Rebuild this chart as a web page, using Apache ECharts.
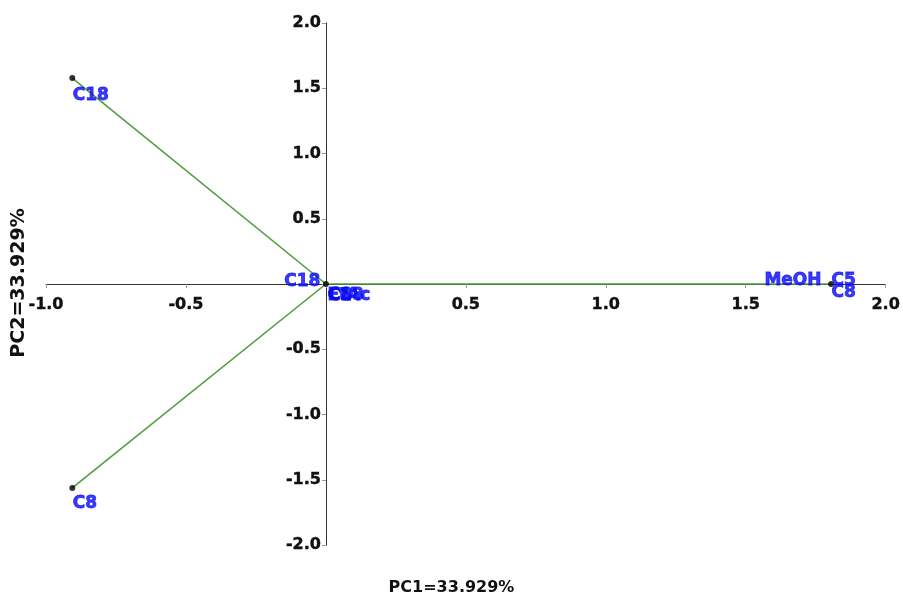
<!DOCTYPE html>
<html>
<head>
<meta charset="utf-8">
<script src="https://cdn.jsdelivr.net/npm/echarts@6/dist/echarts.min.js"></script>
<style>html,body{margin:0;padding:0;background:#fff}#c{width:903px;height:597px}</style>
</head>
<body>
<div id="c"></div>
<script>
// Loading vectors (end points)
const vectorNames = ['C18', 'C8', 'MeOH'];
const vectorPC1 = [-0.906, -0.906, 1.805];
const vectorPC2 = [1.578, -1.563, 0];

// Variable labels and the point they belong to
const labelTexts = ['C18', 'C8', 'C18', 'C18', 'C8', 'EtAc', 'MeOH', 'C5', 'C8'];
const labelPC1 = [-0.906, -0.906, 0, 0, 0, 0, 1.805, 1.805, 1.805];
const labelPC2 = [1.578, -1.563, 0, 0, 0, 0, 0, 0, 0];

const xTicks = [-1.0, -0.5, 0, 0.5, 1.0, 1.5, 2.0];
const yTicks = [-2.0, -1.5, -1.0, -0.5, 0, 0.5, 1.0, 1.5, 2.0];
const xTitle = 'PC1=33.929%';
const yTitle = 'PC2=33.929%';

// label placement styles (pixel offsets from the anchor point)
const labelPlacement = [
  {pos: [1, 18], align: 'left'},
  {pos: [1, 16], align: 'left'},
  {pos: [-5, -2], align: 'right'},
  {pos: [2, 12], align: 'left'},
  {pos: [3, 12], align: 'left'},
  {pos: [2, 12], align: 'left'},
  {pos: [-9, -3], align: 'right'},
  {pos: [1, -3], align: 'left'},
  {pos: [1, 9], align: 'left'}
];

const chart = echarts.init(document.getElementById('c'));
const FONT = 'DejaVu Sans';

const series = [];
vectorNames.forEach((n, i) => {
  series.push({
    type: 'line', name: n, silent: true,
    data: [[0, 0], [vectorPC1[i], vectorPC2[i]]],
    symbol: 'none',
    lineStyle: {color: '#4e9e3e', width: 1.6},
    z: 2
  });
});
series.push({
  type: 'scatter', name: 'points',
  data: vectorPC1.map((x, i) => [x, vectorPC2[i]]).concat([[0, 0]]),
  symbol: 'circle', symbolSize: 6,
  itemStyle: {color: '#000'},
  z: 3
});
series.push({
  type: 'scatter', name: 'labels',
  symbolSize: 1,
  itemStyle: {color: 'rgba(0,0,0,0)'},
  data: labelTexts.map((t, i) => ({
    value: [labelPC1[i], labelPC2[i]],
    label: {
      show: true,
      formatter: t,
      position: labelPlacement[i].pos,
      align: labelPlacement[i].align,
      verticalAlign: 'middle',
      color: '#0a0af5',
      textBorderColor: '#0a0af5', textBorderWidth: 0.8,
      fontFamily: FONT, fontWeight: 'bold', fontSize: 17
    }
  })),
  labelLayout: {hideOverlap: false},
  z: 4
});

const labelFmt = v => (Math.abs(v) < 1e-9 ? '' : v.toFixed(1));

function axisCommon(min, max, margin) {
  return {
    type: 'value', min: min, max: max, interval: 0.5,
    splitLine: {show: false},
    axisLine: {onZero: false, lineStyle: {color: '#333', width: 1}},
    axisTick: {show: true, length: 4, lineStyle: {color: '#999'}},
    axisLabel: {margin: margin, color: '#111', fontFamily: FONT, fontWeight: 'bold', fontSize: 16,
      textBorderColor: '#111', textBorderWidth: 0.4, formatter: labelFmt}
  };
}

const xAxisOpt = axisCommon(xTicks[0], xTicks[xTicks.length - 1], 13);
xAxisOpt.position = 'bottom';
const yAxisOpt = axisCommon(yTicks[0], yTicks[yTicks.length - 1], 5);
yAxisOpt.position = 'left';

const GRID = {left: 46, right: 16, top: 23, bottom: 52};

chart.setOption({
  animation: false,
  grid: Object.assign({containLabel: false}, GRID),
  xAxis: xAxisOpt,
  yAxis: yAxisOpt,
  graphic: [
    {type: 'text', left: 'center', top: 580, style: {text: xTitle, fill: '#111', font: 'bold 16px "DejaVu Sans"'}, z: 10},
    {type: 'text', x: 19, y: 283, rotation: Math.PI / 2, style: {text: yTitle, fill: '#111', font: 'bold 19px "DejaVu Sans"', align: 'center', verticalAlign: 'middle'}, z: 10}
  ],
  series: series
});

// Move both axes (line, ticks, labels) so they cross at the origin
const origin = chart.convertToPixel({gridIndex: 0}, [0, 0]);
const bottomEdge = 597 - GRID.bottom;
const leftEdge = GRID.left;
chart.setOption({
  xAxis: {offset: -(bottomEdge - origin[1])},
  yAxis: {offset: -(origin[0] - leftEdge)}
});
</script>
</body>
</html>
